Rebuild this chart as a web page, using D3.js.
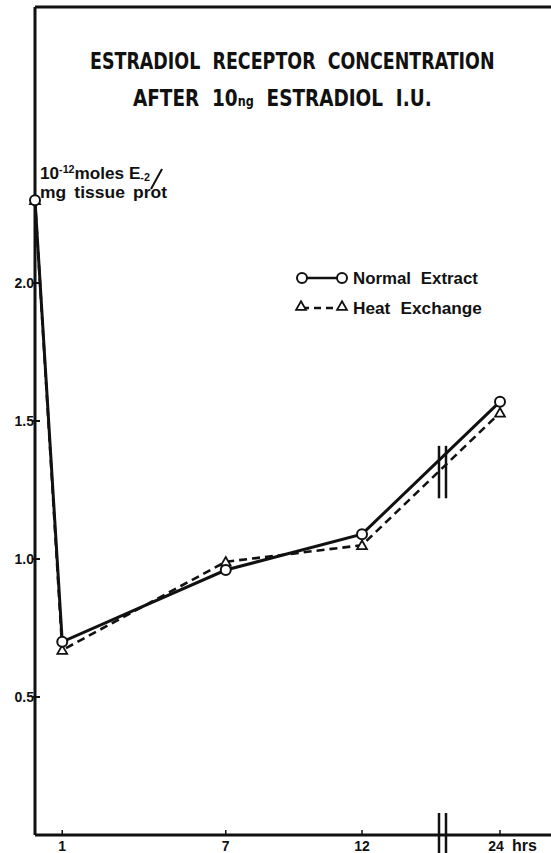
<!DOCTYPE html>
<html>
<head>
<meta charset="utf-8">
<script src="https://cdn.jsdelivr.net/npm/d3@7"></script>
<style>
  html, body { margin: 0; padding: 0; background: #fff; }
  svg { display: block; }
  text { fill: #111; }
</style>
</head>
<body>
<svg id="chart" width="551" height="853"></svg>
<script>
// Sampling times (hours after injection)
const hours = [0, 1, 7, 12, 24];
// Estradiol receptor, 10^-12 moles E2 / mg tissue protein
const normalExtract = [2.30, 0.70, 0.96, 1.09, 1.57];
const heatExchange  = [2.30, 0.67, 0.99, 1.05, 1.53];
const xTickValues = [1, 7, 12, 24];
const xTickLabels = ["1", "7", "12", "24"];
const yTickValues = [0.5, 1.0, 1.5, 2.0];
const yTickLabels = ["0.5", "1.0", "1.5", "2.0"];
const breakHour = 19; // time axis is interrupted between 12 and 24 h

const svg = d3.select("#chart");
const ink = "#111";

// Squeeze or stretch a left-anchored text horizontally to a given width
function fitWidth(sel, x0, y0, width) {
  const w = sel.node().getComputedTextLength();
  const k = width / w;
  sel.attr("x", 0).attr("y", 0)
    .attr("transform", `translate(${x0},${y0}) scale(${k},1)`);
  return sel;
}

// Time axis is compressed after 12 h
const x = d3.scaleLinear().domain([0, 12, 24]).range([35, 362, 500]);
const y = d3.scaleLinear().domain([0, 3]).range([835, 7]);

// Frame: left axis, top rule, time axis
svg.append("line").attr("x1", x(0)).attr("x2", x(0)).attr("y1", y(3)).attr("y2", y(0))
  .attr("stroke", ink).attr("stroke-width", 3);
svg.append("line").attr("x1", x(0)).attr("x2", 551).attr("y1", y(3)).attr("y2", y(3))
  .attr("stroke", ink).attr("stroke-width", 3);
svg.append("line").attr("x1", x(0)).attr("x2", 551).attr("y1", y(0)).attr("y2", y(0))
  .attr("stroke", ink).attr("stroke-width", 3);

const labelFont = "bold 14px 'Liberation Sans', Arial, sans-serif";

// Y ticks and labels
const yAxis = svg.append("g");
yTickValues.forEach((v, i) => {
  yAxis.append("line").attr("x1", x(0) - 2).attr("x2", x(0) + 5)
    .attr("y1", y(v)).attr("y2", y(v)).attr("stroke", ink).attr("stroke-width", 2);
  yAxis.append("text").attr("x", x(0) - 1).attr("y", y(v) + 5)
    .attr("text-anchor", "end")
    .style("font", labelFont)
    .text(yTickLabels[i]);
});

// X ticks and labels
const xAxis = svg.append("g");
xTickValues.forEach((v, i) => {
  xAxis.append("line").attr("x1", x(v)).attr("x2", x(v))
    .attr("y1", y(0)).attr("y2", y(0) - 5).attr("stroke", ink).attr("stroke-width", 1.5);
  xAxis.append("text").attr("x", x(v) - (v === 24 ? 4 : 0)).attr("y", y(0) + 16)
    .attr("text-anchor", "middle")
    .style("font", labelFont)
    .text(xTickLabels[i]);
});
xAxis.append("text").attr("x", x(24) + 12).attr("y", y(0) + 16)
  .style("font", "bold 16px 'Liberation Sans', Arial, sans-serif")
  .text("hrs");

// Axis break marks
[-3.5, 3.5].forEach(dx => {
  svg.append("line").attr("x1", x(breakHour) + dx).attr("x2", x(breakHour) + dx)
    .attr("y1", y(0) - 22).attr("y2", 853).attr("stroke", ink).attr("stroke-width", 2.5);
});

// Series lines
const line = d3.line().x((d, i) => x(hours[i])).y(d => y(d));
svg.append("path").datum(heatExchange).attr("d", line)
  .attr("fill", "none").attr("stroke", ink).attr("stroke-width", 2.6)
  .attr("stroke-dasharray", "8,5");
svg.append("path").datum(normalExtract).attr("d", line)
  .attr("fill", "none").attr("stroke", ink).attr("stroke-width", 3);

// Break marks on the curves between 12 and 24 h
[-3.5, 3.5].forEach(dx => {
  svg.append("line").attr("x1", x(breakHour) + dx).attr("x2", x(breakHour) + dx)
    .attr("y1", y(1.41)).attr("y2", y(1.22))
    .attr("stroke", ink).attr("stroke-width", 2.5);
});

// Markers
const tri = d3.symbol().type(d3.symbolTriangle).size(42);
svg.append("g").selectAll("path").data(heatExchange).join("path")
  .attr("d", tri)
  .attr("transform", (d, i) => `translate(${x(hours[i])},${y(d) + 1})`)
  .attr("fill", "#fff").attr("stroke", ink).attr("stroke-width", 1.8);
svg.append("g").selectAll("circle").data(normalExtract).join("circle")
  .attr("cx", (d, i) => x(hours[i])).attr("cy", d => y(d)).attr("r", 5)
  .attr("fill", "#fff").attr("stroke", ink).attr("stroke-width", 2);

// Title (condensed lettering)
const titleFont = "bold 23px 'DejaVu Sans Condensed', 'DejaVu Sans', sans-serif";
const t1 = svg.append("text").style("font", titleFont).style("white-space", "pre")
  .text("ESTRADIOL  RECEPTOR  CONCENTRATION");
fitWidth(t1, 90, 69, 405);
const t2 = svg.append("text").style("font", titleFont).style("white-space", "pre");
t2.append("tspan").text("AFTER  10");
t2.append("tspan").style("font-size", "14px").text("ng");
t2.append("tspan").text("  ESTRADIOL  I.U.");
fitWidth(t2, 133, 106, 299);

// Unit label
const unitFont = "bold 16px 'Liberation Sans', Arial, sans-serif";
const u1 = svg.append("text").style("font", unitFont);
u1.append("tspan").text("10");
u1.append("tspan").attr("dy", -6).style("font-size", "10px").text("-12");
u1.append("tspan").attr("dy", 6).text("moles E");
u1.append("tspan").attr("dy", 2).style("font-size", "10px").text("-2");
fitWidth(u1, 40, 179, 110);
svg.append("line").attr("x1", 151).attr("y1", 189).attr("x2", 162).attr("y2", 169)
  .attr("stroke", ink).attr("stroke-width", 2);
const u2 = svg.append("text").style("font", unitFont).style("word-spacing", "3px")
  .text("mg tissue prot");
fitWidth(u2, 40, 198, 127);

// Legend
const lg = svg.append("g");
lg.append("line").attr("x1", 302).attr("x2", 342).attr("y1", 278).attr("y2", 278)
  .attr("stroke", ink).attr("stroke-width", 2.5);
[302, 342].forEach(cx => lg.append("circle").attr("cx", cx).attr("cy", 278).attr("r", 5)
  .attr("fill", "#fff").attr("stroke", ink).attr("stroke-width", 2));
lg.append("line").attr("x1", 302).attr("x2", 342).attr("y1", 308).attr("y2", 308)
  .attr("stroke", ink).attr("stroke-width", 2.5).attr("stroke-dasharray", "7,5");
[301, 342].forEach(cx => lg.append("path").attr("d", tri)
  .attr("transform", `translate(${cx},307)`)
  .attr("fill", "#fff").attr("stroke", ink).attr("stroke-width", 1.8));
const legendFont = "bold 16px 'Liberation Sans', Arial, sans-serif";
const l1 = lg.append("text").style("font", legendFont).style("word-spacing", "5px")
  .text("Normal Extract");
fitWidth(l1, 353, 284, 125);
const l2 = lg.append("text").style("font", legendFont).style("word-spacing", "5px")
  .text("Heat Exchange");
fitWidth(l2, 353, 314, 129);
</script>
</body>
</html>
